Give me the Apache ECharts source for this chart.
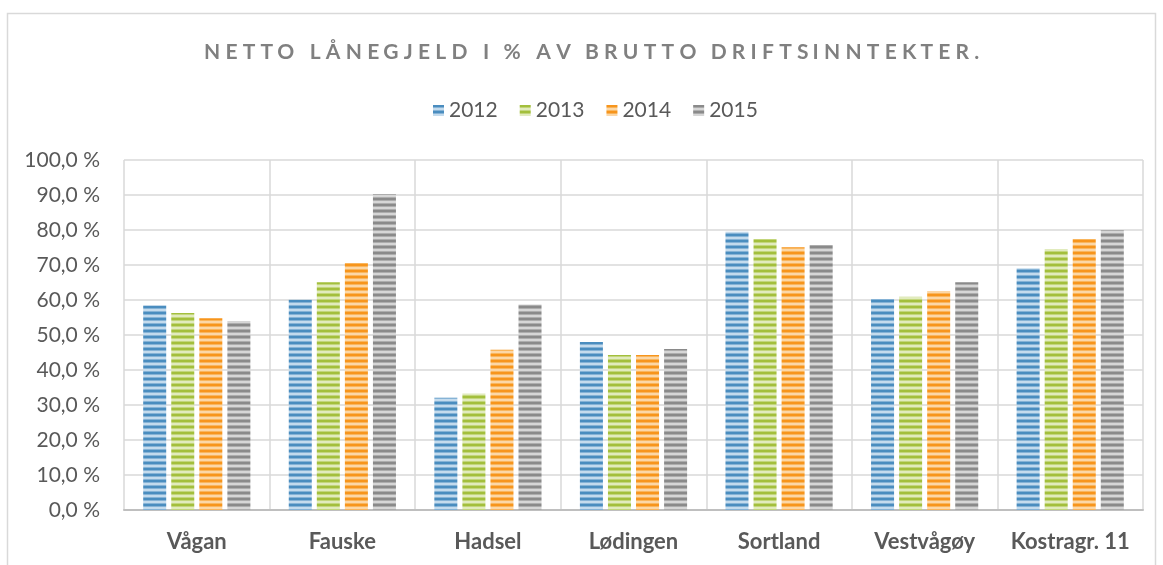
<!DOCTYPE html>
<html>
<head>
<meta charset="utf-8">
<script src="https://cdn.jsdelivr.net/npm/echarts@6/dist/echarts.min.js"></script>
<style>
  html, body { margin: 0; padding: 0; background: #ffffff; }
  #chart { width: 1163px; height: 565px; }
</style>
</head>
<body>
<div id="chart"></div>
<script>
// Netto lånegjeld i % av brutto driftsinntekter, per kommune og år
const categories = ['Vågan', 'Fauske', 'Hadsel', 'Lødingen', 'Sortland', 'Vestvågøy', 'Kostragr. 11'];
const years = ['2012', '2013', '2014', '2015'];
const v2012 = [58.4, 60.1, 32.1, 48.0, 79.5, 60.3, 69.1];
const v2013 = [56.3, 65.1, 33.3, 44.3, 77.4, 60.9, 74.6];
const v2014 = [54.8, 70.6, 45.8, 44.3, 75.1, 62.6, 77.4];
const v2015 = [54.0, 90.3, 58.7, 46.0, 75.7, 65.1, 80.0];
const titleText = 'NETTO LÅNEGJELD I % AV BRUTTO DRIFTSINNTEKTER.';

// Narrow horizontal stripe fill
function stripes(dark, mid, light) {
  const c = document.createElement('canvas');
  c.width = 4; c.height = 6;
  const ctx = c.getContext('2d');
  [dark, dark, mid, light, light, mid].forEach((col, i) => {
    ctx.fillStyle = col;
    ctx.fillRect(0, i, 4, 1);
  });
  return { image: c, repeat: 'repeat' };
}

const fills = [
  stripes('#4a8dbf', '#86b3d6', '#c4dbed'),
  stripes('#a3bf3c', '#c3d67c', '#e1ebbd'),
  stripes('#f7951c', '#f9b65e', '#fcd7a6'),
  stripes('#8a8a8a', '#adadad', '#d6d6d6')
];

// Spread the title letters with hair spaces, evenly distributed, to a set width
function spaced(text, font, targetWidth) {
  const ctx = document.createElement('canvas').getContext('2d');
  ctx.font = font;
  const base = ctx.measureText(text).width;
  const hair = ctx.measureText('\u200A').width || 1;
  const chars = text.split('');
  const gaps = chars.length - 1;
  const total = Math.max(0, Math.round((targetWidth - base) / hair));
  let out = chars[0];
  for (let i = 1; i <= gaps; i++) {
    const n = Math.round(total * i / gaps) - Math.round(total * (i - 1) / gaps);
    out += '\u200A'.repeat(n) + chars[i];
  }
  return out;
}

const titleFont = 'bold 21px Lato';
const chart = echarts.init(document.getElementById('chart'));
const seriesData = [v2012, v2013, v2014, v2015];

chart.setOption({
  backgroundColor: '#ffffff',
  animation: false,
  textStyle: { fontFamily: 'Lato' },
  graphic: [{
    type: 'rect',
    shape: { x: 7.5, y: 13.5, width: 1148, height: 600 },
    style: { fill: 'none', stroke: '#d9d9d9', lineWidth: 1.5 },
    silent: true
  }],
  title: {
    text: spaced(titleText, titleFont, 772),
    left: 199,
    top: 37,
    textStyle: { fontFamily: 'Lato', fontSize: 21, fontWeight: 'bold', color: '#808080' }
  },
  legend: {
    data: years,
    left: 428,
    top: 95,
    itemWidth: 11,
    itemHeight: 11,
    itemGap: 22,
    icon: 'rect',
    textStyle: { fontFamily: 'Lato', fontSize: 21, color: '#595959' }
  },
  grid: { left: 124, right: 20, top: 160, bottom: 55, containLabel: false },
  xAxis: {
    type: 'category',
    data: categories,
    axisLine: { show: true, lineStyle: { color: '#bfbfbf', width: 2 } },
    axisTick: { show: false },
    splitLine: { show: true, interval: 0, lineStyle: { color: '#d9d9d9', width: 1.5 } },
    axisLabel: {
      interval: 0, margin: 21,
      fontFamily: 'Lato', fontSize: 22, fontWeight: 'bold', color: '#595959'
    }
  },
  yAxis: {
    type: 'value',
    min: 0, max: 100, interval: 10,
    axisLine: { show: false },
    axisTick: { show: false },
    splitLine: { show: true, lineStyle: { color: '#d9d9d9', width: 1.5 } },
    axisLabel: {
      margin: 24,
      fontFamily: 'Lato', fontSize: 21, color: '#595959',
      formatter: v => v.toFixed(1).replace('.', ',') + ' %'
    }
  },
  series: years.map((y, i) => ({
    name: y,
    type: 'bar',
    data: seriesData[i],
    barWidth: 23,
    barGap: '22%',
    itemStyle: { color: fills[i] }
  }))
});
</script>
</body>
</html>
